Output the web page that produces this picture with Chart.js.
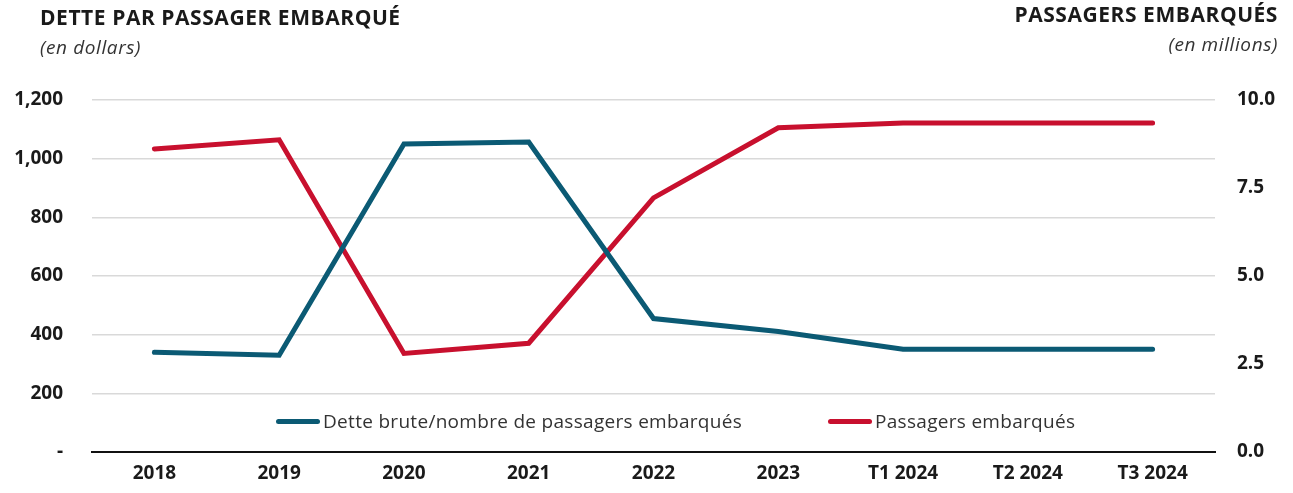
<!DOCTYPE html>
<html lang="fr">
<head>
<meta charset="utf-8">
<script src="https://cdn.jsdelivr.net/npm/chart.js@4.4.1/dist/chart.umd.min.js"></script>
<style>
    html, body { margin: 0; padding: 0; background: #fff; }
    body { width: 1293px; height: 493px; position: relative; overflow: hidden; font-family: 'Open Sans', sans-serif; color: #1a1a1a; }
    #wrap { position: absolute; left: 0; top: 0; width: 1293px; height: 493px; }
    .title { position: absolute; font-weight: 700; font-size: 21px; white-space: nowrap; letter-spacing: 0.55px; }
    .sub { position: absolute; font-style: italic; font-size: 19px; white-space: nowrap; color: #333; letter-spacing: 0.6px; }
    .legend { position: absolute; top: 408px; display: flex; align-items: center; font-size: 19px; color: #333; white-space: nowrap; letter-spacing: 0.3px; }
    .legend span.swatch { display: inline-block; width: 44px; height: 5px; border-radius: 3px; margin-right: 3px; }
</style>
</head>
<body>
<div id="wrap"><canvas id="chart" width="1293" height="493"></canvas></div>
<div class="title" style="left:40px; top:3px;">DETTE PAR PASSAGER EMBARQUÉ</div>
<div class="sub" style="left:40px; top:34px;">(en dollars)</div>
<div class="title" style="right:15px; top:0px;">PASSAGERS EMBARQUÉS</div>
<div class="sub" style="right:15px; top:31px;">(en millions)</div>
<div id="legend"></div>
<script>
const categories = ['2018', '2019', '2020', '2021', '2022', '2023', 'T1 2024', 'T2 2024', 'T3 2024'];
const detteParPassager = [340, 330, 1050, 1057, 455, 411, 350, 350, 350];
const passagers = [8.61, 8.87, 2.80, 3.09, 7.22, 9.21, 9.35, 9.35, 9.35];
const leftTicks = [0, 200, 400, 600, 800, 1000, 1200];
const rightTicks = [0, 2.5, 5, 7.5, 10];

const teal = '#0b5a74';
const red = '#c8102e';
const tickFont = { family: 'Open Sans', size: 19, weight: 'bold' };

const ctx = document.getElementById('chart').getContext('2d');
const chart = new Chart(ctx, {
    type: 'line',
    data: {
        labels: categories,
        datasets: [
            {
                label: 'Dette brute/nombre de passagers embarqués',
                data: detteParPassager,
                borderColor: teal,
                borderWidth: 5,
                pointRadius: 0,
                borderCapStyle: 'round',
                tension: 0,
                yAxisID: 'y'
            },
            {
                label: 'Passagers embarqués',
                data: passagers,
                borderColor: red,
                borderWidth: 5,
                pointRadius: 0,
                borderCapStyle: 'round',
                tension: 0,
                yAxisID: 'y1'
            }
        ]
    },
    options: {
        responsive: false,
        animation: false,
        layout: { padding: { top: 100, bottom: 0, left: 0, right: 0 } },
        plugins: { legend: { display: false }, tooltip: { enabled: false } },
        scales: {
            x: {
                offset: true,
                grid: { display: false, drawTicks: false },
                border: { display: true, color: '#111', width: 2 },
                ticks: { color: '#1a1a1a', font: tickFont, padding: 10, maxRotation: 0 },
                afterFit: scale => { scale.height = 41; }
            },
            y: {
                position: 'left',
                min: 0,
                max: 1200,
                afterBuildTicks: scale => { scale.ticks = leftTicks.map(v => ({ value: v })); },
                grid: { color: '#d9d9d9', lineWidth: 1.5, drawTicks: false },
                border: { display: false },
                ticks: {
                    color: '#1a1a1a',
                    font: tickFont,
                    padding: 29,
                    callback: v => v === 0 ? '-' : v.toLocaleString('en-US')
                },
                afterFit: scale => { scale.width = 92; }
            },
            y1: {
                position: 'right',
                min: 0,
                max: 10,
                afterBuildTicks: scale => { scale.ticks = rightTicks.map(v => ({ value: v })); },
                grid: { display: false, drawTicks: false },
                border: { display: false },
                ticks: {
                    color: '#1a1a1a',
                    font: tickFont,
                    padding: 22,
                    callback: v => v.toFixed(1)
                },
                afterFit: scale => { scale.width = 78; }
            }
        }
    }
});

// legend placed inside the plot, as in the original
const legendPos = [276, 828];
const legendEl = document.getElementById('legend');
chart.data.datasets.forEach((ds, i) => {
    const item = document.createElement('div');
    item.className = 'legend';
    item.style.left = legendPos[i] + 'px';
    item.innerHTML = `<span class="swatch" style="background:${ds.borderColor}"></span>${ds.label}`;
    legendEl.appendChild(item);
});
</script>
</body>
</html>
